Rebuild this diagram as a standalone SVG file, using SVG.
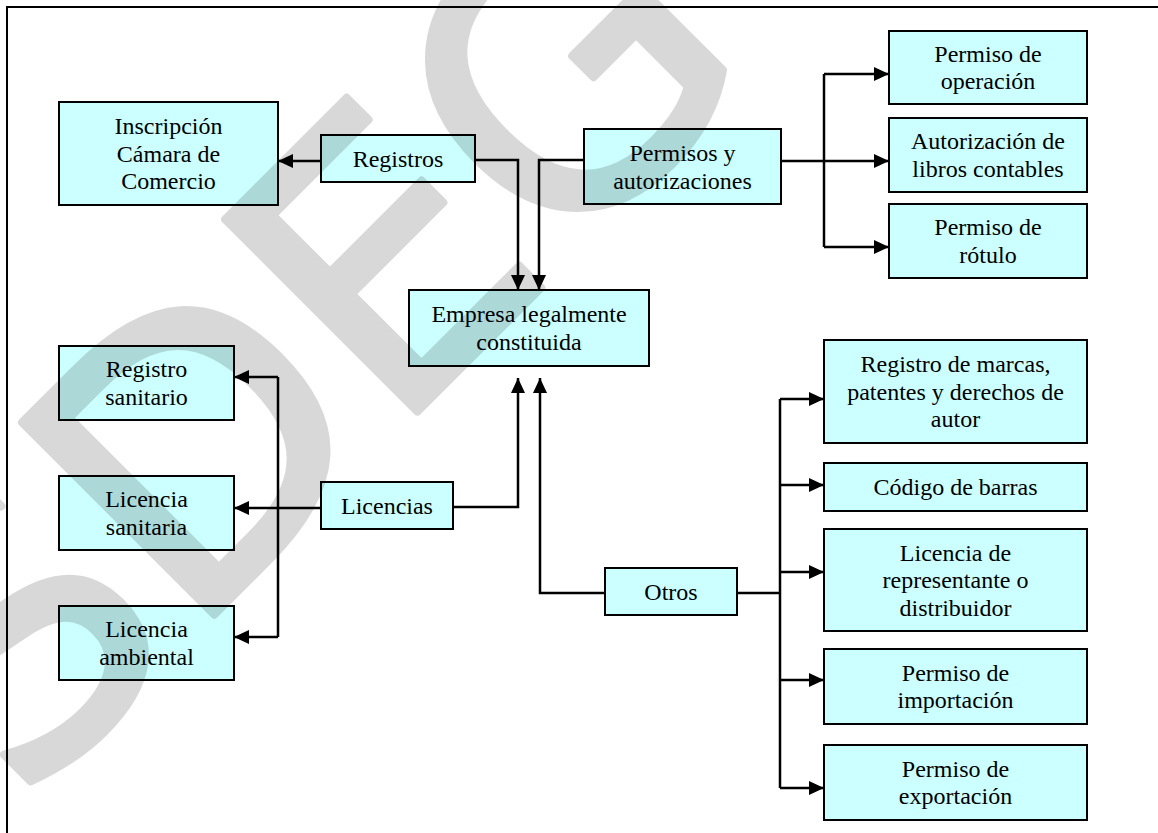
<svg xmlns="http://www.w3.org/2000/svg" width="1158" height="833" viewBox="0 0 1158 833">
<style>
.box{fill:#ccffff;stroke:#000;stroke-width:2}
.t{font-family:"Liberation Serif","Times New Roman",serif;font-size:24px;fill:#000;text-anchor:middle}
.c{fill:none;stroke:#000;stroke-width:2.5}
.wm{font-family:"DejaVu Sans","Liberation Sans",sans-serif;font-size:373px;fill:#000;stroke:#000;stroke-width:8;stroke-linejoin:round;opacity:0.15}
</style>
<defs>
<marker id="ah" markerUnits="userSpaceOnUse" markerWidth="15" markerHeight="14" refX="15" refY="7" orient="auto">
<path d="M0,0 L15,7 L0,14 Z" fill="#000"/>
</marker>
</defs>
<rect width="1158" height="833" fill="#fff"/>
<path d="M7,833 V7 H1158" fill="none" stroke="#000" stroke-width="2"/>

<g id="connectors">
<path class="c" d="M321,161 H278" marker-end="url(#ah)"/>
<path class="c" d="M475,160 H518 V290" marker-end="url(#ah)"/>
<path class="c" d="M584,160 H539 V290" marker-end="url(#ah)"/>
<path class="c" d="M781,161 H889" marker-end="url(#ah)"/>
<path class="c" d="M824,74 H889" marker-end="url(#ah)"/>
<path class="c" d="M824,247 H889" marker-end="url(#ah)"/>
<path class="c" d="M824,74 V247"/>
<path class="c" d="M453,507 H518 V378" marker-end="url(#ah)"/>
<path class="c" d="M605,593 H540 V378" marker-end="url(#ah)"/>
<path class="c" d="M321,508 H234" marker-end="url(#ah)"/>
<path class="c" d="M278,377 V637"/>
<path class="c" d="M278,377 H234" marker-end="url(#ah)"/>
<path class="c" d="M278,637 H234" marker-end="url(#ah)"/>
<path class="c" d="M737,593 H780"/>
<path class="c" d="M780,399 V788"/>
<path class="c" d="M780,399 H824" marker-end="url(#ah)"/>
<path class="c" d="M780,485 H824" marker-end="url(#ah)"/>
<path class="c" d="M780,572 H824" marker-end="url(#ah)"/>
<path class="c" d="M780,680 H824" marker-end="url(#ah)"/>
<path class="c" d="M780,788 H824" marker-end="url(#ah)"/>
</g>

<g id="inscripcion"><rect class="box" x="59" y="102" width="219" height="103"/>
<text class="t" x="168.5" y="134">Inscripción</text><text class="t" x="168.5" y="161.5">Cámara de</text><text class="t" x="168.5" y="189">Comercio</text></g>
<g id="registros"><rect class="box" x="321" y="135" width="154" height="47"/>
<text class="t" x="398" y="166.5">Registros</text></g>
<g id="permisos"><rect class="box" x="584" y="129" width="197" height="75"/>
<text class="t" x="682.5" y="161">Permisos y</text><text class="t" x="682.5" y="188.5">autorizaciones</text></g>
<g id="permiso-operacion"><rect class="box" x="889" y="31" width="198" height="73"/>
<text class="t" x="988" y="61.5">Permiso de</text><text class="t" x="988" y="89">operación</text></g>
<g id="autorizacion-libros"><rect class="box" x="889" y="118" width="198" height="74"/>
<text class="t" x="988" y="149">Autorización de</text><text class="t" x="988" y="176.5">libros contables</text></g>
<g id="permiso-rotulo"><rect class="box" x="889" y="204" width="198" height="74"/>
<text class="t" x="988" y="235">Permiso de</text><text class="t" x="988" y="262.5">rótulo</text></g>
<g id="empresa"><rect class="box" x="409" y="290" width="240" height="76"/>
<text class="t" x="529" y="322">Empresa legalmente</text><text class="t" x="529" y="349.5">constituida</text></g>
<g id="registro-sanitario"><rect class="box" x="59" y="346" width="175" height="74"/>
<text class="t" x="146.5" y="377">Registro</text><text class="t" x="146.5" y="404.5">sanitario</text></g>
<g id="licencia-sanitaria"><rect class="box" x="59" y="476" width="175" height="74"/>
<text class="t" x="146.5" y="507">Licencia</text><text class="t" x="146.5" y="534.5">sanitaria</text></g>
<g id="licencia-ambiental"><rect class="box" x="59" y="606" width="175" height="74"/>
<text class="t" x="146.5" y="637">Licencia</text><text class="t" x="146.5" y="664.5">ambiental</text></g>
<g id="licencias"><rect class="box" x="321" y="482" width="132" height="47"/>
<text class="t" x="387" y="513.5">Licencias</text></g>
<g id="otros"><rect class="box" x="605" y="568" width="132" height="47"/>
<text class="t" x="671" y="599.5">Otros</text></g>
<g id="registro-marcas"><rect class="box" x="824" y="340" width="263" height="103"/>
<text class="t" x="955.5" y="372">Registro de marcas,</text><text class="t" x="955.5" y="399.5">patentes y derechos de</text><text class="t" x="955.5" y="427">autor</text></g>
<g id="codigo-barras"><rect class="box" x="824" y="463" width="263" height="48"/>
<text class="t" x="955.5" y="495">Código de barras</text></g>
<g id="licencia-representante"><rect class="box" x="824" y="529" width="263" height="102"/>
<text class="t" x="955.5" y="560.5">Licencia de</text><text class="t" x="955.5" y="588">representante o</text><text class="t" x="955.5" y="615.5">distribuidor</text></g>
<g id="permiso-importacion"><rect class="box" x="824" y="649" width="263" height="75"/>
<text class="t" x="955.5" y="680.5">Permiso de</text><text class="t" x="955.5" y="708">importación</text></g>
<g id="permiso-exportacion"><rect class="box" x="824" y="745" width="263" height="75"/>
<text class="t" x="955.5" y="776.5">Permiso de</text><text class="t" x="955.5" y="804">exportación</text></g>

<text class="wm" transform="translate(21,808) rotate(-45)">SDEG</text>
</svg>
